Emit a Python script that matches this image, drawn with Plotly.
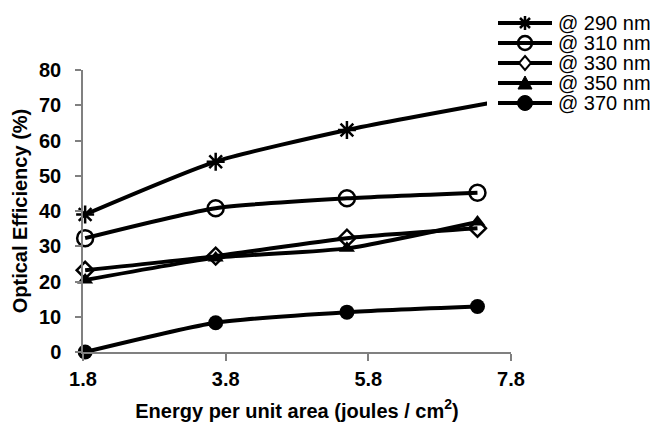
import plotly.graph_objects as go

energy = [1.83, 3.66, 5.5, 7.33]
energy_290 = [1.83, 3.66, 5.5, 7.6]
eff_290 = [39.0, 54.0, 63.0, 71.0]
eff_310 = [32.3, 40.8, 43.6, 45.2]
eff_330 = [23.2, 27.2, 32.3, 35.1]
eff_350 = [20.4, 26.7, 29.4, 36.9]
eff_370 = [0.0, 8.3, 11.3, 12.9]
series_names = ["@ 290 nm", "@ 310 nm", "@ 330 nm", "@ 350 nm", "@ 370 nm"]
x_ticks = [1.8, 3.8, 5.8, 7.8]
y_ticks = [0, 10, 20, 30, 40, 50, 60, 70, 80]

# plot area in pixels (for placing the hand-drawn legend)
L, R, T, B = 83, 511, 70, 352
W, H = 660, 431


def pxx(v):
    return (v - L) / (R - L)


def pxy(v):
    return (B - v) / (B - T)


markers = [
    dict(symbol="asterisk-open", size=15, color="black", line=dict(width=2.5, color="black")),
    dict(symbol="circle-open", size=16, color="black", line=dict(width=2.5, color="black")),
    dict(symbol="diamond-open", size=13, color="black", line=dict(width=2.5, color="black")),
    dict(symbol="triangle-up", size=14, color="black"),
    dict(symbol="circle", size=15, color="black"),
]
xs_all = [energy_290, energy, energy, energy, energy]
ys_all = [eff_290, eff_310, eff_330, eff_350, eff_370]

fig = go.Figure()
for name, xs, ys, mk in zip(series_names, xs_all, ys_all, markers):
    fig.add_trace(go.Scatter(
        x=xs, y=ys, name=name, mode="lines+markers",
        line=dict(color="black", width=4, shape="spline", smoothing=0.6),
        marker=mk, cliponaxis=False, showlegend=False,
    ))

# legend drawn by hand (white box + key samples + text)
shapes = [dict(type="rect", xref="paper", yref="paper", layer="above",
               x0=pxx(487), x1=pxx(662), y0=pxy(118), y1=pxy(2),
               fillcolor="white", line=dict(width=0))]
annotations = []
row_y = [23, 43, 63, 83, 103]
cx = 525
for i, (name, ry) in enumerate(zip(series_names, row_y)):
    shapes.append(dict(type="line", xref="paper", yref="paper", layer="above",
                       x0=pxx(498), x1=pxx(552), y0=pxy(ry), y1=pxy(ry),
                       line=dict(color="black", width=4)))
    common = dict(xref="paper", yref="paper", layer="above", xsizemode="pixel", ysizemode="pixel",
                  xanchor=pxx(cx), yanchor=pxy(ry))
    if i == 0:
        shapes.append(dict(type="path", path="M-7,0L7,0M0,-7L0,7M-5,-5L5,5M-5,5L5,-5",
                           line=dict(color="black", width=2.5), **common))
    elif i == 1:
        shapes.append(dict(type="circle", x0=-7, x1=7, y0=-7, y1=7,
                           line=dict(color="black", width=2.5), **common))
    elif i == 2:
        shapes.append(dict(type="path", path="M0,7L6,0L0,-7L-6,0Z", fillcolor="white",
                           line=dict(color="black", width=2), **common))
    elif i == 3:
        shapes.append(dict(type="path", path="M-7,-6L7,-6L0,7Z", fillcolor="black",
                           line=dict(color="black", width=1), **common))
    else:
        shapes.append(dict(type="circle", x0=-7.5, x1=7.5, y0=-7.5, y1=7.5, fillcolor="black",
                           line=dict(color="black", width=1), **common))
    annotations.append(dict(text=name, xref="paper", yref="paper", x=pxx(556), y=pxy(ry),
                            xanchor="left", yanchor="middle", showarrow=False,
                            font=dict(family="Liberation Sans, Arial", size=20, color="black")))

tick_font = dict(family="Liberation Sans, Arial", size=20, color="black", weight="bold")

fig.update_layout(
    width=W, height=H,
    paper_bgcolor="white", plot_bgcolor="white",
    margin=dict(l=L, r=W - R, t=T, b=H - B),
    showlegend=False,
    shapes=shapes, annotations=annotations,
    xaxis=dict(
        range=[1.8, 7.8], tickvals=x_ticks, ticktext=[f"{v:.1f}" for v in x_ticks],
        showgrid=False, zeroline=False, showline=True, linecolor="#808080", linewidth=1.5,
        ticks="outside", ticklen=7, tickcolor="#808080", tickwidth=1.5,
        tickfont=tick_font, ticklabelstandoff=1,
        title=dict(text="Energy per unit area (joules / cm<sup>2</sup>)",
                   font=dict(family="Liberation Sans, Arial", size=20, color="black", weight="bold"),
                   standoff=15),
    ),
    yaxis=dict(
        range=[0, 80], tickvals=y_ticks,
        showgrid=False, zeroline=False, showline=True, linecolor="#808080", linewidth=1.5,
        ticks="outside", ticklen=6, tickcolor="#808080", tickwidth=1.5,
        tickfont=tick_font, ticklabelstandoff=10,
        title=dict(text="Optical Efficiency (%)",
                   font=dict(family="Liberation Sans, Arial", size=20, color="black", weight="bold"),
                   standoff=6),
    ),
)

fig.write_html("out.html", config={"displayModeBar": False},
               post_script="document.body.style.margin='0';")
